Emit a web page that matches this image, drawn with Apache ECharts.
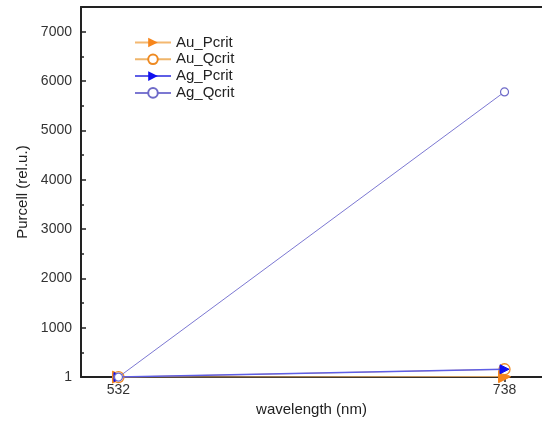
<!DOCTYPE html>
<html><head><meta charset="utf-8">
<script src="https://cdn.jsdelivr.net/npm/echarts@6/dist/echarts.min.js"></script>
<style>html,body{margin:0;padding:0;background:#fff}#c{width:542px;height:422px}</style>
</head><body><div id="c"></div>
<script>
const wavelengths = [532, 738];
const auPcrit = [1, 10];
const auQcrit = [1, 160];
const agPcrit = [1, 160];
const agQcrit = [1, 5780];
const yTickLabels = [1, 1000, 2000, 3000, 4000, 5000, 6000, 7000];
const yMinorTicks = [500, 1500, 2500, 3500, 4500, 5500, 6500];
const xTickLabels = [532, 738];

const chart = echarts.init(document.getElementById('c'), null, {renderer: 'canvas'});
const pairs = a => wavelengths.map((w, i) => [w, a[i]]);
const font = 'Arial, "Liberation Sans", sans-serif';
chart.setOption({
  animation: false,
  grid: {left: 81, top: 7, right: 0, bottom: 40, show: false},
  legend: {
    orient: 'vertical', left: 129, top: 30, itemWidth: 36, itemHeight: 12, itemGap: 1.8,
    textStyle: {fontFamily: font, fontSize: 15, color: '#222', lineHeight: 12},
    data: ['Au_Pcrit', 'Au_Qcrit', 'Ag_Pcrit', 'Ag_Qcrit']
  },
  xAxis: [{
    type: 'value', min: 512, max: 758,
    name: 'wavelength (nm)', nameLocation: 'middle', nameGap: 17,
    nameTextStyle: {fontFamily: font, fontSize: 15, color: '#222'},
    axisLine: {lineStyle: {color: '#222', width: 2}},
    axisTick: {show: true, inside: false, length: 5, lineStyle: {color: '#222', width: 1.5}, customValues: xTickLabels},
    axisLabel: {fontFamily: font, fontSize: 14, color: '#333', margin: 6, customValues: xTickLabels, formatter: v => String(v)},
    splitLine: {show: false}
  }, {
    type: 'value', min: 512, max: 758, position: 'top',
    axisLine: {show: true, lineStyle: {color: '#222', width: 2}},
    axisTick: {show: false}, axisLabel: {show: false}, splitLine: {show: false}
  }],
  yAxis: [{
    type: 'value', min: 1, max: 7500,
    name: 'Purcell (rel.u.)', nameLocation: 'middle', nameGap: 50,
    nameTextStyle: {fontFamily: font, fontSize: 15, color: '#222'},
    axisLine: {show: true, lineStyle: {color: '#222', width: 2}},
    axisTick: {show: true, inside: true, length: 5, lineStyle: {color: '#222', width: 1.5}, customValues: yTickLabels},
    axisLabel: {fontFamily: font, fontSize: 14, color: '#333', margin: 9, customValues: yTickLabels, formatter: v => String(v)},
    splitLine: {show: false}
  }, {
    type: 'value', min: 1, max: 7500, position: 'left',
    axisLine: {show: false},
    axisTick: {show: true, inside: true, length: 3, lineStyle: {color: '#222', width: 1.5}, customValues: yMinorTicks},
    axisLabel: {show: false},
    splitLine: {show: false}
  }],
  series: [
    {name: 'Au_Pcrit', type: 'line', data: pairs(auPcrit), symbol: 'triangle', symbolRotate: -90, symbolSize: 12,
     lineStyle: {color: '#F4B870', width: 1}, itemStyle: {color: '#F7861C', borderColor: '#F7861C'}, z: 2},
    {name: 'Au_Qcrit', type: 'line', data: pairs(auQcrit), symbol: 'circle', symbolSize: 11,
     lineStyle: {color: '#EFB56A', width: 1}, itemStyle: {color: '#fff', borderColor: '#EE8A22', borderWidth: 1.3}, z: 3},
    {name: 'Ag_Pcrit', type: 'line', data: pairs(agPcrit), symbol: 'triangle', symbolRotate: -90, symbolSize: 9,
     lineStyle: {color: '#5E5EE6', width: 1.5}, itemStyle: {color: '#1010F0', borderColor: '#1010F0'}, z: 4},
    {name: 'Ag_Qcrit', type: 'line', data: pairs(agQcrit), symbol: 'circle', symbolSize: 8,
     lineStyle: {color: '#7C78D2', width: 1}, itemStyle: {color: '#fff', borderColor: '#6E6AC8', borderWidth: 1.2}, z: 5}
  ]
});
</script></body></html>
